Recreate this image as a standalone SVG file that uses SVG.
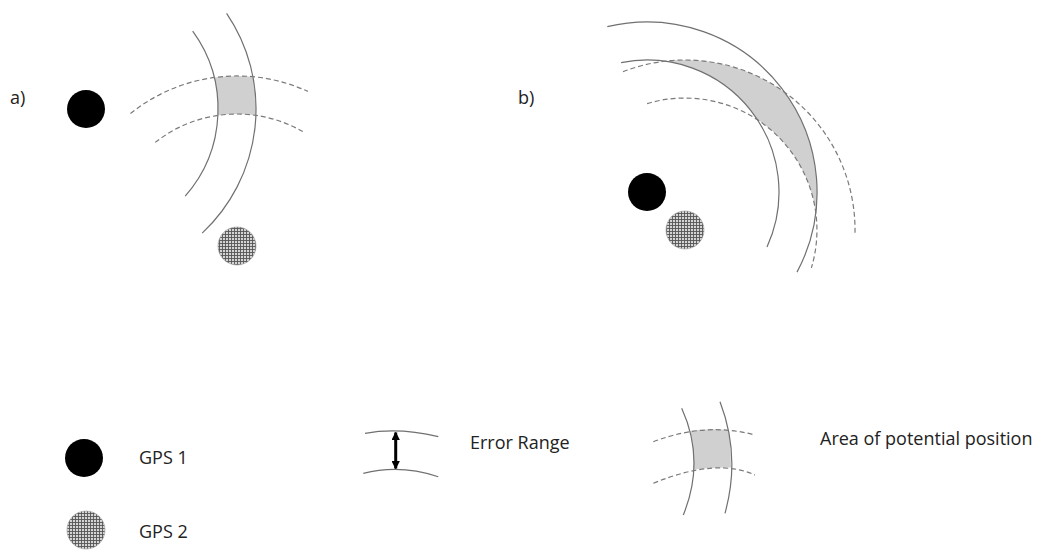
<svg xmlns="http://www.w3.org/2000/svg" width="1046" height="550" viewBox="0 0 1046 550">
  <defs>
    <pattern id="hatch" width="3" height="3" patternUnits="userSpaceOnUse">
      <rect width="3" height="3" fill="#d4d4d4"/>
      <path d="M0 0.5H3M0.5 0V3" stroke="#555" stroke-width="0.9" fill="none"/>
    </pattern>
    <marker id="ah" viewBox="0 0 10 10" refX="9" refY="5" markerWidth="2.8" markerHeight="2.8" orient="auto-start-reverse">
      <path d="M0 0L10 5L0 10Z" fill="#000"/>
    </marker>
  </defs>
  <style>
    .solid{fill:none;stroke:#707070;stroke-width:1.2}
    .dash{fill:none;stroke:#7a7a7a;stroke-width:1.2;stroke-dasharray:5 3}
    .area{fill:#d0d0d0;stroke:none}
    .gps1{fill:#000}
    .gps2{fill:url(#hatch);stroke:#999;stroke-width:0.6}
    .lbl{font-family:"Open Sans","Liberation Sans",sans-serif;font-size:18px;fill:#222}
  </style>
  <rect width="1046" height="550" fill="#fff"/>

  <!-- Panel a -->
  <g id="panel-a">
    <text class="lbl" x="10" y="104">a)</text>
    <path class="area" d="M214.2,77.6 A170,170 0 0 1 252.9,76.8 A170,170 0 0 1 255.8,115.3 A132,132 0 0 0 217.8,115.4 A132,132 0 0 0 214.2,77.6 Z"/>
    <path class="solid" d="M192.7,31.2 A132,132 0 0 1 185.2,196.1"/>
    <path class="solid" d="M226.6,13.4 A170,170 0 0 1 202.2,233.1"/>
    <path class="dash" d="M130.5,113.5 A170,170 0 0 1 307.8,91.4"/>
    <path class="dash" d="M155.2,142.4 A132,132 0 0 1 302.8,131.6"/>
    <g id="gps1-a"><circle class="gps1" cx="86" cy="109" r="19"/></g>
    <g id="gps2-a"><circle class="gps2" cx="237" cy="246" r="19"/></g>
  </g>

  <!-- Panel b -->
  <g id="panel-b">
    <text class="lbl" x="518" y="104">b)</text>
    <path class="area" d="M664.8,61.2 A170,170 0 0 1 784.7,92.3 A170,170 0 0 1 815.8,212.2 A132,132 0 0 0 757.4,119.6 A132,132 0 0 0 664.8,61.2 Z"/>
    <path class="solid" d="M621.1,62.6 A132,132 0 0 1 767,247"/>
    <path class="solid" d="M607.3,26.7 A170,170 0 0 1 797,272.1"/>
    <path class="dash" d="M623,71.7 A170,170 0 0 1 855,233"/>
    <path class="dash" d="M647.1,103.6 A132,132 0 0 1 811.4,267.9"/>
    <g id="gps1-b"><circle class="gps1" cx="647" cy="192" r="19"/></g>
    <g id="gps2-b"><circle class="gps2" cx="685" cy="230" r="19"/></g>
  </g>

  <!-- Legend -->
  <g id="legend-gps1">
    <circle class="gps1" cx="84" cy="458" r="19"/>
    <text class="lbl" x="139" y="464">GPS 1</text>
  </g>
  <g id="legend-gps2">
    <circle class="gps2" cx="86" cy="530" r="19"/>
    <text class="lbl" x="139" y="538">GPS 2</text>
  </g>
  <g id="legend-error">
    <path class="solid" d="M365,433.3 Q399,427 438.3,436.7"/>
    <path class="solid" d="M363.3,473.3 Q400,464 438.3,476.7"/>
    <line x1="395.7" y1="432.5" x2="395.7" y2="468.5" stroke="#000" stroke-width="3" marker-start="url(#ah)" marker-end="url(#ah)"/>
    <text class="lbl" x="470" y="449">Error Range</text>
  </g>
  <g id="legend-area">
    <path class="area" d="M690,431 Q709,428 728.5,430 Q731,448 731,467.5 Q712,467 693.5,469.5 Q694,450 690,431 Z"/>
    <path class="solid" d="M681.7,408.3 Q705.5,460.5 683.3,515"/>
    <path class="solid" d="M720,401.7 Q740.9,455.9 725,513.3"/>
    <path class="dash" d="M653.3,441.7 Q705.8,421.7 755,435"/>
    <path class="dash" d="M653.3,483.3 Q715.8,457.4 755,475"/>
    <text class="lbl" x="820" y="445">Area of potential position</text>
  </g>
</svg>
